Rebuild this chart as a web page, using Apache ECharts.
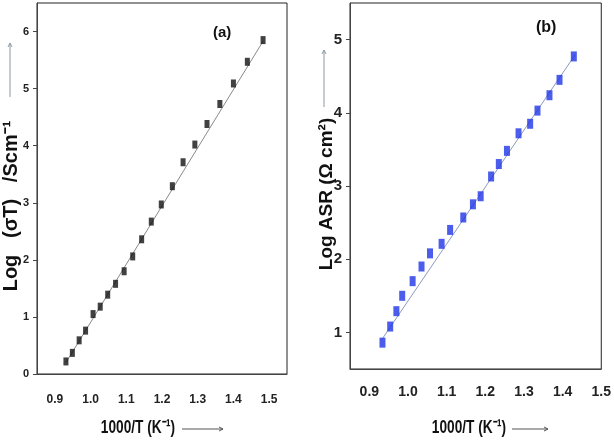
<!DOCTYPE html>
<html><head><meta charset="utf-8">
<script src="https://cdn.jsdelivr.net/npm/echarts@6/dist/echarts.min.js"></script>
<style>html,body{margin:0;padding:0;background:#fff}#c{width:614px;height:443px}</style>
</head><body><div id="c"></div>
<script>
// Panel (a): Log(σT) vs 1000/T
const xA = [0.931,0.949,0.968,0.986,1.007,1.027,1.048,1.070,1.094,1.118,1.143,1.170,1.198,1.229,1.259,1.292,1.326,1.362,1.400,1.439,1.483];
const yA = [0.22,0.37,0.59,0.76,1.05,1.18,1.39,1.58,1.80,2.06,2.36,2.67,2.97,3.29,3.71,4.02,4.38,4.73,5.09,5.47,5.85];
const fitAx = [0.931,1.483];
const fitAy = [0.20,5.83];
// Panel (b): Log ASR vs 1000/T
const xB = [0.934,0.954,0.970,0.985,1.012,1.035,1.057,1.087,1.109,1.143,1.168,1.188,1.215,1.235,1.256,1.286,1.316,1.335,1.366,1.392,1.429];
const yB = [0.86,1.08,1.29,1.50,1.70,1.90,2.08,2.21,2.40,2.57,2.75,2.86,3.13,3.30,3.48,3.72,3.85,4.03,4.24,4.45,4.77];
const fitBx = [0.932,1.432];
const fitBy = [0.90,4.79];
// Tick labels
const xTicks = [0.9,1.0,1.1,1.2,1.3,1.4,1.5];
const yTicksA = [0,1,2,3,4,5,6];
const yTicksB = [1,2,3,4,5];

const zip = (a,b) => a.map((v,i)=>[v,b[i]]);
const fam = "'Liberation Sans',Arial,sans-serif";

function xAxis(idx, max, fs, margin){
  return {type:'value', gridIndex:idx, min:0.85, max:max,
    axisLine:{show:true, onZero:false, lineStyle:{color:'#444', width:1}},
    axisTick:{show:false},
    splitLine:{show:false},
    axisLabel:{customValues:xTicks, formatter:v=>v.toFixed(1), fontFamily:fam, fontWeight:'bold', fontSize:fs, color:'#222', margin:margin}
  };
}
function yAxis(idx, min, max, ticks, fs){
  return {type:'value', gridIndex:idx, min:min, max:max,
    axisLine:{show:true, onZero:false, lineStyle:{color:'#444', width:1}},
    axisTick:{show:true, length:4, customValues:ticks, lineStyle:{color:'#444'}},
    splitLine:{show:false},
    axisLabel:{customValues:ticks, formatter:v=>String(v), fontFamily:fam, fontWeight:'bold', fontSize:fs, color:'#222', margin:8}
  };
}

const chart = echarts.init(document.getElementById('c'), null, {renderer:'canvas'});
chart.setOption({
  animation:false,
  backgroundColor:'#fff',
  grid:[
    {left:37, top:3, width:250, height:371, show:true, borderColor:'#222', borderWidth:1},
    {left:350, top:3, width:255, height:366, show:true, borderColor:'#222', borderWidth:1}
  ],
  xAxis:[xAxis(0,1.55,12,20), xAxis(1,1.5,14,16)],
  yAxis:[yAxis(0,0,6.5,yTicksA,11), yAxis(1,0.5,5.5,yTicksB,15)],
  series:[
    {type:'line', xAxisIndex:0, yAxisIndex:0, data:zip(fitAx,fitAy), symbol:'none', lineStyle:{color:'#8a8a8a', width:1}, z:1},
    {type:'scatter', xAxisIndex:0, yAxisIndex:0, data:zip(xA,yA), symbol:'rect', symbolSize:[5,8], itemStyle:{color:'#111'}, z:2},
    {type:'line', xAxisIndex:1, yAxisIndex:1, data:zip(fitBx,fitBy), symbol:'none', lineStyle:{color:'#8a9bc0', width:1}, z:1},
    {type:'scatter', xAxisIndex:1, yAxisIndex:1, data:zip(xB,yB), symbol:'rect', symbolSize:[6,10], itemStyle:{color:'#1f35e6'}, z:2}
  ],
  graphic:[
    {type:'text', left:213, top:25, style:{text:'(a)', font:"bold 15px "+fam, fill:'#111'}},
    {type:'text', left:536, top:20, style:{text:'(b)', font:"bold 16px "+fam, fill:'#111'}},
    {type:'text', x:11, y:206, rotation:Math.PI/2, style:{text:'Log   (σT)   /Scm⁻¹', font:"bold 20px "+fam, fill:'#111', align:'center', verticalAlign:'middle'}},
    {type:'text', x:327, y:194, rotation:Math.PI/2, style:{text:'Log ASR (Ω cm²)', font:"bold 19px "+fam, fill:'#111', align:'center', verticalAlign:'middle'}},
    {type:'text', x:138, y:428, scaleX:0.72, style:{text:'1000/T (K⁻¹)', font:"bold 19px "+fam, fill:'#111', align:'center', verticalAlign:'middle'}},
    {type:'text', x:469, y:428, scaleX:0.72, style:{text:'1000/T (K⁻¹)', font:"bold 19px "+fam, fill:'#111', align:'center', verticalAlign:'middle'}},
    // arrows
    {type:'line', shape:{x1:10, y1:97, x2:10, y2:43}, style:{stroke:'#8a9aa5', lineWidth:1}},
    {type:'polyline', shape:{points:[[8,47],[10,43],[12,47]]}, style:{stroke:'#8a9aa5', lineWidth:1, fill:null}},
    {type:'line', shape:{x1:324, y1:107, x2:324, y2:50}, style:{stroke:'#8a9aa5', lineWidth:1}},
    {type:'polyline', shape:{points:[[322,54],[324,50],[326,54]]}, style:{stroke:'#8a9aa5', lineWidth:1, fill:null}},
    {type:'line', shape:{x1:182, y1:429, x2:223, y2:429}, style:{stroke:'#555', lineWidth:1}},
    {type:'polyline', shape:{points:[[219,427],[223,429],[219,431]]}, style:{stroke:'#555', lineWidth:1, fill:null}},
    {type:'line', shape:{x1:512, y1:429, x2:548, y2:429}, style:{stroke:'#555', lineWidth:1}},
    {type:'polyline', shape:{points:[[544,427],[548,429],[544,431]]}, style:{stroke:'#555', lineWidth:1, fill:null}}
  ]
});
</script></body></html>
